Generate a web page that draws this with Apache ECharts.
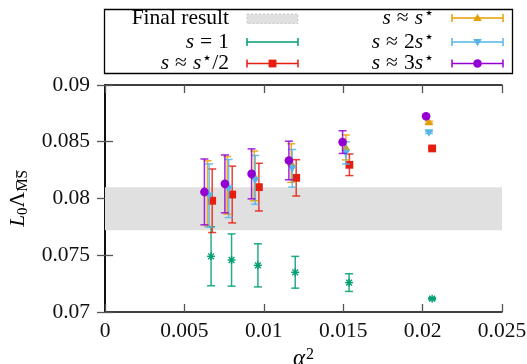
<!DOCTYPE html>
<html>
<head>
<meta charset="utf-8">
<script src="https://cdn.jsdelivr.net/npm/echarts@6/dist/echarts.min.js"></script>
<style>html,body{margin:0;padding:0;background:#fff}#c{width:527px;height:364px}</style>
</head>
<body>
<div id="c"></div>
<script>
// ---- data: [alpha^2, value, error] ----
const sOne      = [[0.00668,0.07491,0.0026],[0.00797,0.07458,0.0023],[0.00963,0.07411,0.0019],[0.01198,0.07350,0.0014],[0.01537,0.07259,0.00078],[0.02060,0.07117,0.0001]];
const sHalf     = [[0.00675,0.07980,0.0028],[0.00801,0.08035,0.0025],[0.00969,0.08100,0.0021],[0.01204,0.08182,0.0016],[0.01539,0.08297,0.00095],[0.02060,0.08441,0.0001]];
const sStar     = [[0.00646,0.08045,0.00287],[0.00770,0.08116,0.00254],[0.00940,0.08199,0.00219],[0.01173,0.08312,0.0017],[0.01517,0.08450,0.0011],[0.02040,0.08671,0.0001]];
const s2Star    = [[0.00656,0.08027,0.00278],[0.00779,0.08088,0.00256],[0.00946,0.08164,0.00215],[0.01179,0.08266,0.00166],[0.01517,0.08402,0.00098],[0.02040,0.08583,0.0001]];
const s3Star    = [[0.00626,0.08058,0.0029],[0.00755,0.08129,0.00255],[0.00923,0.08217,0.0022],[0.01158,0.08335,0.0017],[0.01496,0.08497,0.0010],[0.02022,0.08724,0.0001]];
const finalBand = [0.0772, 0.0810];
const xTicks = [0, 0.005, 0.01, 0.015, 0.02, 0.025];
const yTicks = [0.07, 0.075, 0.08, 0.085, 0.09];

const C = {green:'#009e73', red:'#e51e10', yellow:'#e69f00', blue:'#56b4e9', purple:'#9400d3'};
const FONT = 'Liberation Serif';
const FS = 21.5;

function marker(shape, cx, cy, color){
  if (shape==='circle') return {type:'circle', shape:{cx:cx, cy:cy, r:4.3}, style:{fill:color}};
  if (shape==='square') return {type:'rect', shape:{x:cx-3.9, y:cy-3.9, width:7.8, height:7.8}, style:{fill:color}};
  if (shape==='tri') return {type:'polygon', shape:{points:[[cx,cy-4.3],[cx+4.3,cy+3],[cx-4.3,cy+3]]}, style:{fill:color}};
  if (shape==='tridown') return {type:'polygon', shape:{points:[[cx,cy+4.3],[cx+4.3,cy-3],[cx-4.3,cy-3]]}, style:{fill:color}};
  const r=4, d=2.9;
  return {type:'group', children:[
    {type:'line', shape:{x1:cx, y1:cy-r, x2:cx, y2:cy+r}, style:{stroke:color, lineWidth:1.4}},
    {type:'line', shape:{x1:cx-r, y1:cy, x2:cx+r, y2:cy}, style:{stroke:color, lineWidth:1.4}},
    {type:'line', shape:{x1:cx-d, y1:cy-d, x2:cx+d, y2:cy+d}, style:{stroke:color, lineWidth:1.4}},
    {type:'line', shape:{x1:cx-d, y1:cy+d, x2:cx+d, y2:cy-d}, style:{stroke:color, lineWidth:1.4}}
  ]};
}

function errSeries(name, data, color, shape){
  return {
    name:name, type:'custom', data:data, encode:{x:0, y:1},
    renderItem:function(params, api){
      const x=api.value(0), y=api.value(1), e=api.value(2);
      const c=api.coord([x,y]), t=api.coord([x,y+e]), b=api.coord([x,y-e]);
      const cw=4;
      const ls={stroke:color, lineWidth:1.5, opacity:0.85};
      return {type:'group', children:[
        {type:'line', shape:{x1:c[0], y1:t[1], x2:c[0], y2:b[1]}, style:ls},
        {type:'line', shape:{x1:c[0]-cw, y1:t[1], x2:c[0]+cw, y2:t[1]}, style:ls},
        {type:'line', shape:{x1:c[0]-cw, y1:b[1], x2:c[0]+cw, y2:b[1]}, style:ls},
        marker(shape, c[0], c[1], color)
      ]};
    }
  };
}

const chart = echarts.init(document.getElementById('c'), null, {renderer:'canvas'});

const axisCommon = {
  axisLine:{lineStyle:{color:'#000', width:1.5}},
  axisTick:{inside:true, length:8, lineStyle:{color:'#555', width:1.3}},
  splitLine:{show:false}
};

const rich = {
  i:{fontFamily:FONT, fontStyle:'italic', fontSize:FS, color:'#000'},
  ib:{fontFamily:FONT, fontStyle:'italic', fontSize:23, color:'#000'},
  n:{fontFamily:FONT, fontSize:FS, color:'#000'},
  rel:{fontFamily:FONT, fontSize:FS, color:'#000', padding:[0,6,0,6]},
  sub:{fontFamily:FONT, fontSize:15, color:'#000', padding:[10,0,0,0]},
  sup:{fontFamily:FONT, fontSize:16, color:'#000', padding:[0,0,9,1]}
};

// legend layout
const legRows = [18, 42, 63.5];
const leftTextX = 229, rightTextX = 434;
const leftSample = [247, 298], rightSample = [452, 503];

function legendSample(xs, y, color, shape){
  const cx=(xs[0]+xs[1])/2;
  return [
    {type:'line', shape:{x1:xs[0], y1:y, x2:xs[1], y2:y}, style:{stroke:color, lineWidth:1.5}},
    {type:'line', shape:{x1:xs[0], y1:y-4, x2:xs[0], y2:y+4}, style:{stroke:color, lineWidth:1.5}},
    {type:'line', shape:{x1:xs[1], y1:y-4, x2:xs[1], y2:y+4}, style:{stroke:color, lineWidth:1.5}},
    marker(shape, cx, y, color)
  ];
}
function legendText(x, y, txt){
  return {type:'text', x:x, y:y, style:{text:txt, rich:rich, fontFamily:FONT, fontSize:FS, fill:'#000', align:'right', verticalAlign:'middle'}};
}

const graphics = [
  {type:'rect', shape:{x:104.5, y:9.5, width:408, height:64}, style:{fill:'#fff', stroke:'#000', lineWidth:1.3}, z:10},
  {type:'rect', shape:{x:247, y:14, width:51, height:9.5}, style:{fill:'#e0e0e0', stroke:'#c8c8c8', lineWidth:1, lineDash:[2,2]}, z:11},
  legendText(leftTextX, legRows[0], '{n|Final result}'),
  legendText(leftTextX, legRows[1], '{i|s}{rel|=}{n|1}'),
  legendText(leftTextX, legRows[2], '{i|s}{rel|≈}{i|s}{sup|⋆}{n|/2}'),
  legendText(rightTextX, legRows[0], '{i|s}{rel|≈}{i|s}{sup|⋆}'),
  legendText(rightTextX, legRows[1], '{i|s}{rel|≈}{n|2}{i|s}{sup|⋆}'),
  legendText(rightTextX, legRows[2], '{i|s}{rel|≈}{n|3}{i|s}{sup|⋆}')
].concat(
  legendSample(leftSample, legRows[1], C.green, 'star'),
  legendSample(leftSample, legRows[2], C.red, 'square'),
  legendSample(rightSample, legRows[0], C.yellow, 'tri'),
  legendSample(rightSample, legRows[1], C.blue, 'tridown'),
  legendSample(rightSample, legRows[2], C.purple, 'circle')
).map(function(g){ if(g.z===undefined) g.z=12; return g; });

function fmt(v){ return String(+v.toFixed(3)); }

chart.setOption({
  animation:false,
  backgroundColor:'#fff',
  grid:{left:105, right:25, top:85, bottom:52, containLabel:false, outerBoundsMode:'none'},
  xAxis:[
    Object.assign({type:'value', min:xTicks[0], max:xTicks[xTicks.length-1], interval:0.005, position:'bottom',
      axisLabel:{fontFamily:FONT, fontSize:FS, color:'#111', margin:8, formatter:fmt},
      name:'{ib|α}{sup|2}', nameLocation:'middle', nameGap:30, nameTextStyle:{rich:rich}}, axisCommon),
    Object.assign({type:'value', min:xTicks[0], max:xTicks[xTicks.length-1], interval:0.005, position:'top', axisLabel:{show:false}}, axisCommon)
  ],
  yAxis:[
    Object.assign({type:'value', min:yTicks[0], max:yTicks[yTicks.length-1], interval:0.005, position:'left',
      axisLabel:{fontFamily:FONT, fontSize:FS, color:'#111', margin:15, formatter:fmt},
      name:'{i|L}{sub|0}{n|Λ}{sub|M̅S̅}', nameLocation:'middle', nameGap:72, nameRotate:90, nameTextStyle:{rich:rich}}, axisCommon),
    Object.assign({type:'value', min:yTicks[0], max:yTicks[yTicks.length-1], interval:0.005, position:'right', axisLabel:{show:false}}, axisCommon)
  ],
  graphic:graphics,
  series:[
    {name:'Final result', type:'line', data:[], z:1,
      markArea:{silent:true, itemStyle:{color:'#e0e0e0'}, data:[[{yAxis:finalBand[0]},{yAxis:finalBand[1]}]]}},
    errSeries('s=1', sOne, C.green, 'star'),
    errSeries('s≈s*/2', sHalf, C.red, 'square'),
    errSeries('s≈s*', sStar, C.yellow, 'tri'),
    errSeries('s≈2s*', s2Star, C.blue, 'tridown'),
    errSeries('s≈3s*', s3Star, C.purple, 'circle')
  ]
});
</script>
</body>
</html>
